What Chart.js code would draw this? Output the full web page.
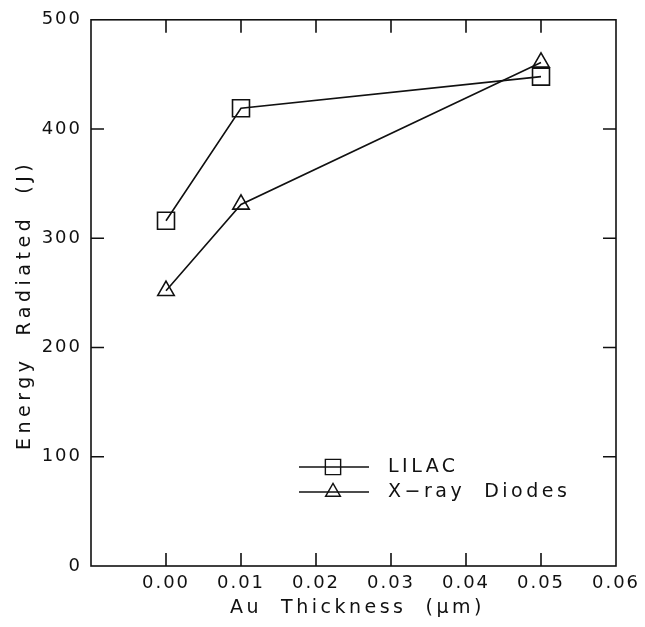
<!DOCTYPE html>
<html>
<head>
<meta charset="utf-8">
<script src="https://cdn.jsdelivr.net/npm/chart.js@4.4.1/dist/chart.umd.min.js"></script>
<style>
  html, body { margin: 0; padding: 0; background: #fff; }
  #wrap { width: 645px; height: 627px; }
</style>
</head>
<body>
<div id="wrap"><canvas id="energyChart" width="645" height="627"></canvas></div>
<script>
// values
const thickness = [0.00, 0.01, 0.05];
const lilacEnergy = [316, 419, 448];
const diodeEnergy = [252, 331, 461];
const xTicks = [-0.01, 0.00, 0.01, 0.02, 0.03, 0.04, 0.05, 0.06];
const yTicks = [0, 100, 200, 300, 400, 500];
const xTitle = 'Au  Thickness  (\u03bcm)';
const yTitle = 'Energy  Radiated  (J)';

const FONT = 'DejaVu Sans';

// the original lettering is widely spaced
const spacing = {
    id: 'spacing',
    beforeDraw(chart) {
        chart.ctx.letterSpacing = '2px';
    }
};

// inward ticks on all four sides + frame + axis titles
const frameTicks = {
    id: 'frameTicks',
    afterDraw(chart) {
        const { ctx, chartArea: a, scales } = chart;
        const len = 13;
        ctx.save();
        ctx.strokeStyle = '#111';
        ctx.lineWidth = 1.6;
        ctx.strokeRect(a.left, a.top, a.right - a.left, a.bottom - a.top);
        ctx.beginPath();
        xTicks.forEach(v => {
            if (v <= -0.01 || v >= 0.06) return;
            const px = scales.x.getPixelForValue(v);
            ctx.moveTo(px, a.bottom); ctx.lineTo(px, a.bottom - len);
            ctx.moveTo(px, a.top); ctx.lineTo(px, a.top + len);
        });
        yTicks.forEach(v => {
            if (v <= 0 || v >= 500) return;
            const py = scales.y.getPixelForValue(v);
            ctx.moveTo(a.left, py); ctx.lineTo(a.left + len, py);
            ctx.moveTo(a.right, py); ctx.lineTo(a.right - len, py);
        });
        ctx.stroke();

        // axis titles
        ctx.fillStyle = '#111';
        ctx.font = '19px "' + FONT + '"';
        ctx.letterSpacing = '3.5px';
        ctx.textAlign = 'center';
        ctx.textBaseline = 'middle';
        ctx.fillText(xTitle, (a.left + a.right) / 2 + 4, 608);
        ctx.letterSpacing = '4.5px';
        ctx.translate(25, (a.top + a.bottom) / 2 + 12);
        ctx.rotate(-Math.PI / 2);
        ctx.fillText(yTitle, 0, 0);
        ctx.restore();
    }
};

// legend drawn inside the plot, lower right
const innerLegend = {
    id: 'innerLegend',
    afterDraw(chart) {
        const { ctx } = chart;
        const x0 = 299, x1 = 369;
        const rows = [467, 492];
        ctx.save();
        chart.data.datasets.forEach((ds, i) => {
            const y = rows[i];
            ctx.strokeStyle = '#111';
            ctx.lineWidth = 1.4;
            ctx.beginPath();
            ctx.moveTo(x0, y); ctx.lineTo(x1, y);
            ctx.stroke();
            ctx.fillStyle = 'rgba(0,0,0,0)';
            Chart.helpers.drawPoint(ctx, {
                pointStyle: ds.pointStyle,
                radius: ds.pointRadius * 0.9,
                borderWidth: 1.6
            }, 333, y);
            ctx.fillStyle = '#111';
            ctx.font = '19px "' + FONT + '"';
            ctx.letterSpacing = '3.5px';
            ctx.textBaseline = 'middle';
            ctx.textAlign = 'left';
            ctx.fillText(ds.label, 388, y);
        });
        ctx.restore();
    }
};

new Chart(document.getElementById('energyChart'), {
    type: 'line',
    data: {
        datasets: [{
            label: 'LILAC',
            data: thickness.map((t, i) => ({ x: t, y: lilacEnergy[i] })),
            borderColor: '#111',
            borderWidth: 1.6,
            pointStyle: 'rect',
            pointRadius: 12,
            pointBorderWidth: 1.6,
            pointBorderColor: '#111',
            pointBackgroundColor: 'rgba(0,0,0,0)',
            tension: 0
        }, {
            label: 'X\u2212ray  Diodes',
            data: thickness.map((t, i) => ({ x: t, y: diodeEnergy[i] })),
            borderColor: '#111',
            borderWidth: 1.6,
            pointStyle: 'triangle',
            pointRadius: 9.5,
            pointBorderWidth: 1.6,
            pointBorderColor: '#111',
            pointBackgroundColor: 'rgba(0,0,0,0)',
            tension: 0
        }]
    },
    options: {
        responsive: false,
        animation: false,
        layout: { padding: { top: 17, right: 29, left: 0, bottom: 0 } },
        plugins: {
            legend: { display: false },
            tooltip: { enabled: false }
        },
        scales: {
            x: {
                type: 'linear',
                min: -0.01,
                max: 0.06,
                afterBuildTicks: (scale) => { scale.ticks = xTicks.map(v => ({ value: v })); },
                afterFit: (scale) => { scale.height = 61; },
                grid: { display: false, drawTicks: false },
                border: { display: false },
                ticks: {
                    color: '#111',
                    padding: 7,
                    maxRotation: 0,
                    font: { family: FONT, size: 18 },
                    callback: (v) => v < -0.005 ? '' : v.toFixed(2)
                },
                title: { display: false }
            },
            y: {
                min: 0,
                max: 500,
                afterBuildTicks: (scale) => { scale.ticks = yTicks.map(v => ({ value: v })); },
                afterFit: (scale) => { scale.width = 91; },
                grid: { display: false, drawTicks: false },
                border: { display: false },
                ticks: {
                    color: '#111',
                    padding: 9,
                    font: { family: FONT, size: 18 }
                },
                title: { display: false }
            }
        }
    },
    plugins: [spacing, frameTicks, innerLegend]
});
</script>
</body>
</html>
